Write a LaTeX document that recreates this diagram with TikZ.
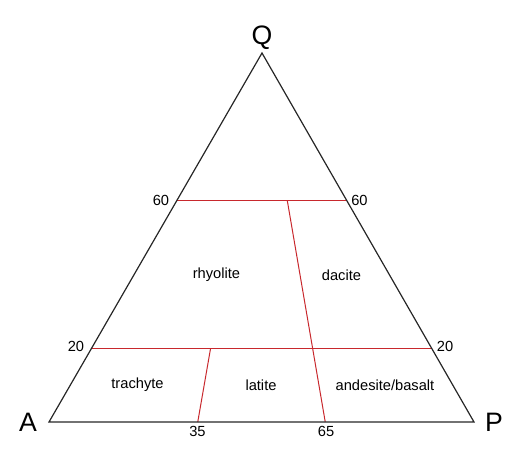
\documentclass[tikz,border=0pt]{standalone}
\usepackage{fontspec}
\setmainfont{Liberation Sans}
\definecolor{divred}{RGB}{200,40,45}
\begin{document}
\begin{tikzpicture}[x=0.75pt,y=-0.75pt,
  edge/.style={draw=black!85,line width=0.9pt},
  divline/.style={draw=divred,line width=0.75pt},
  vlab/.style={font=\fontsize{20}{20}\selectfont,inner sep=0pt},
  num/.style={font=\fontsize{11}{11}\selectfont,inner sep=0pt},
  field/.style={font=\fontsize{11}{11}\selectfont,inner sep=0pt}]
\useasboundingbox (0,0) rectangle (529,458);
% vertices
\coordinate (A) at (49,422);
\coordinate (P) at (474,422);
\coordinate (Q) at (262,53);
% division points
\coordinate (L60) at (176.8,200.6);
\coordinate (R60) at (346.8,200.6);
\coordinate (L20) at (91.6,348.2);
\coordinate (R20) at (431.6,348.2);
\coordinate (B35) at (197.75,422);
\coordinate (T35) at (210.6,348.2);
\coordinate (B65) at (325.25,422);
\coordinate (T65) at (287.3,200.6);
% red divisions
\draw[divline] (L60) -- (R60);
\draw[divline] (L20) -- (R20);
\draw[divline] (B35) -- (T35);
\draw[divline] (B65) -- (T65);
% triangle
\draw[edge,line join=miter] (A) -- (P) -- (Q) -- cycle;
% vertex labels
\node[vlab] (lQ) at (262,38) {Q};
\node[vlab] (lA) at (28,422) {A};
\node[vlab] (lP) at (494,422) {P};
% tick labels
\node[num] (n60l) at (161,200) {60};
\node[num] (n60r) at (359.5,200) {60};
\node[num] (n20l) at (76,346) {20};
\node[num] (n20r) at (445,346) {20};
\node[num] (n35) at (197.5,431) {35};
\node[num] (n65) at (326,431) {65};
% field labels
\node[field] (rhy) at (216.5,275) {rhyolite};
\node[field] (dac) at (341.5,275) {dacite};
\node[field] (tra) at (137.5,385) {trachyte};
\node[field] (lat) at (261,385) {latite};
\node[field] (and) at (385,385) {andesite/basalt};
\end{tikzpicture}
\end{document}
